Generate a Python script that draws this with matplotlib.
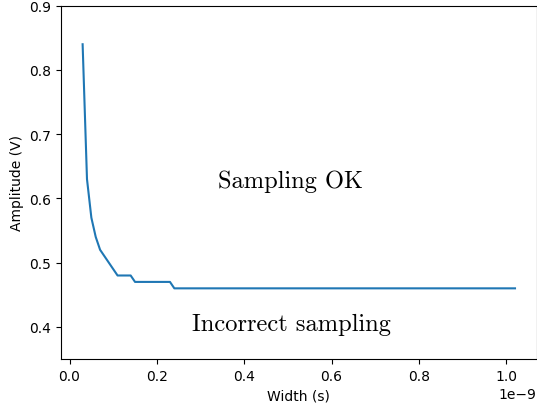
import matplotlib
matplotlib.use('Agg')
import matplotlib.pyplot as plt

# pulse width (s) vs. minimum amplitude (V)
widths = [0.03e-9, 0.04e-9, 0.05e-9, 0.06e-9, 0.07e-9, 0.08e-9, 0.09e-9,
          0.10e-9, 0.11e-9, 0.14e-9, 0.15e-9, 0.23e-9, 0.24e-9, 1.02e-9]
amplitudes = [0.84, 0.63, 0.57, 0.54, 0.52, 0.51, 0.50,
              0.49, 0.48, 0.48, 0.47, 0.47, 0.46, 0.46]

label_ok = 'Sampling OK'
label_bad = 'Incorrect sampling'

fig = plt.figure(figsize=(5.37, 4.06), dpi=100)
ax = fig.add_subplot(111)
fig.subplots_adjust(left=0.1136, right=0.9993, top=0.9835, bottom=0.1133)

ax.plot(widths, amplitudes, color='tab:blue', linewidth=1.5)

ax.text(0.507e-9, 0.618, label_ok, fontsize=17.6, family='cmr10',
        ha='center', va='baseline')
ax.text(0.509e-9, 0.395, label_bad, fontsize=17.6, family='cmr10',
        ha='center', va='baseline')

ax.set_ylim(0.35, 0.9)
ax.set_xlabel('Width (s)')
ax.set_ylabel('Amplitude (V)')

fig.savefig('out.png', dpi=100)
